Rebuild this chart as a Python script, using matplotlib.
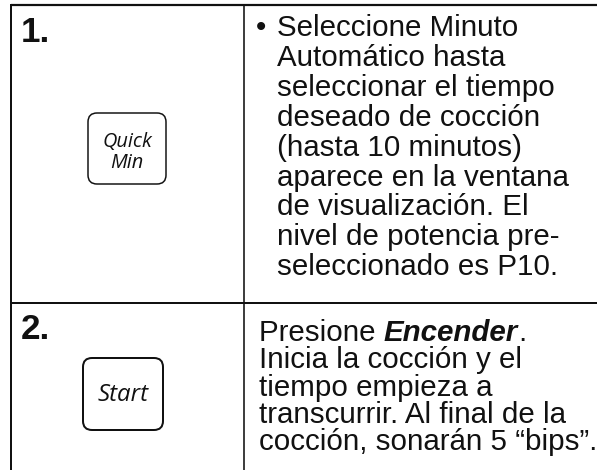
import matplotlib.pyplot as plt
from matplotlib.patches import FancyBboxPatch

W, H = 597, 470

steps = ['1.', '2.']
buttons = [['Quick', 'Min'], ['Start']]
step1_lines = ['Seleccione Minuto', 'Automático hasta', 'seleccionar el tiempo',
               'deseado de cocción', '(hasta 10 minutos)', 'aparece en la ventana',
               'de visualización. El', 'nivel de potencia pre-', 'seleccionado es P10.']
step2_first = ['Presione ', 'Encender', '.']
step2_lines = ['Inicia la cocción y el', 'tiempo empieza a',
               'transcurrir. Al final de la', 'cocción, sonarán 5 \u201cbips\u201d.']

plt.rcParams['font.family'] = ['Liberation Sans', 'DejaVu Sans']
fig = plt.figure(figsize=(W / 100, H / 100), dpi=100)
fig.patch.set_facecolor('white')
ax = fig.add_axes([0, 0, 1, 1])
ax.set_xlim(0, W)
ax.set_ylim(H, 0)
ax.axis('off')

ink = '#111111'
px = 0.72  # pixels -> points at 100 dpi

# table lines
ax.plot([11, W], [5, 5], color=ink, lw=2.2 * px, solid_capstyle='butt')
ax.plot([11, 11], [4, H], color=ink, lw=2.0 * px, solid_capstyle='butt')
ax.plot([244, 244], [5, H], color=ink, lw=1.6 * px, solid_capstyle='butt')
ax.plot([11, W], [303, 303], color=ink, lw=2.0 * px, solid_capstyle='butt')

# step numbers
for lab, y in zip(steps, [42, 339]):
    ax.text(21, y, lab, fontsize=35 * px, fontweight='bold', color=ink,
            ha='left', va='baseline')

# buttons
boxes = [(88, 113, 78, 71, 1.5), (83, 358, 80, 72, 2.0)]
for (x0, y0, w, h, lw), lab in zip(boxes, buttons):
    r = 9
    p = FancyBboxPatch((x0 + r, y0 + r), w - 2 * r, h - 2 * r,
                       boxstyle=f'round,pad={r}', fc='white', ec=ink, lw=lw * px)
    ax.add_patch(p)
    cx, cy = x0 + w / 2, y0 + h / 2
    if len(lab) == 2:
        ax.text(cx, cy - 2, lab[0], fontsize=20 * px, style='italic',
                family='Open Sans', ha='center', va='baseline', color=ink)
        ax.text(cx, cy + 19, lab[1], fontsize=20 * px, style='italic',
                family='Open Sans', ha='center', va='baseline', color=ink)
    else:
        ax.text(cx, cy + 7, lab[0], fontsize=24 * px, style='italic',
                family='Open Sans', ha='center', va='baseline', color=ink)

# step 1 text
fs = 29.5 * px
ax.text(256, 36, '\u2022', fontsize=fs, ha='left', va='baseline', color=ink)
for i, line in enumerate(step1_lines):
    ax.text(277, 36 + i * 29.9, line, fontsize=fs, ha='left', va='baseline', color=ink)

# step 2 text
fig.canvas.draw()
renderer = fig.canvas.get_renderer()
x = 259
y2 = 341
styles = [dict(), dict(fontweight='bold', style='italic'), dict()]
for piece, st in zip(step2_first, styles):
    t = ax.text(x, y2, piece, fontsize=fs, ha='left', va='baseline', color=ink, **st)
    bb = t.get_window_extent(renderer)
    x += bb.width
for i, line in enumerate(step2_lines):
    ax.text(259, y2 + (i + 1) * 27.3, line, fontsize=fs, ha='left', va='baseline', color=ink)

fig.savefig('out.png', dpi=100, facecolor='white')
plt.close(fig)
